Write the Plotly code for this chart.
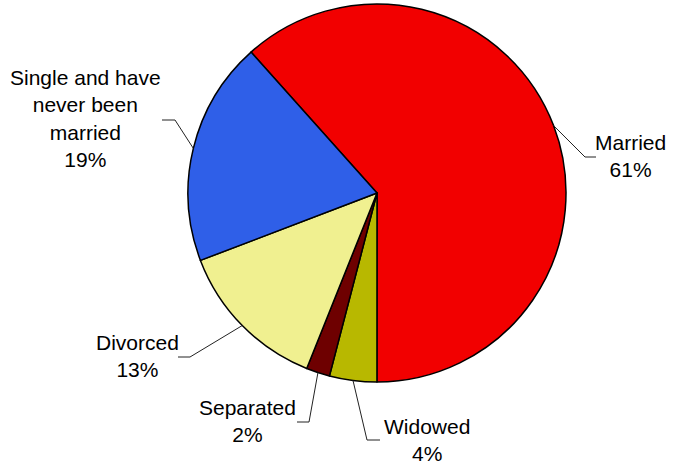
import math
import plotly.graph_objects as go

# ---- data ----
categories = ["Married", "Widowed", "Separated", "Divorced", "Single and have never been married"]
values = [61, 4, 2, 13, 19]
label_texts = ["Married<br>61%", "Widowed<br>4%", "Separated<br>2%", "Divorced<br>13%",
               "Single and have<br>never been<br>married<br>19%"]

# ---- styles / layout ----
W, H = 674, 466
colors = ["#F20000", "#B8B800", "#6E0000", "#F0F090", "#2F5FE8"]
CX, CY, R = 377, 193, 189         # page pixels
ROTATION = -41.8

# label placement (text centre, elbow point, end of leader) in page pixels
label_pos = [(630, 156), (427, 440), (247, 421), (137, 356), (85, 118)]
elbows = [(585, 157), (367, 440), (309, 422), (190, 357), (175, 120)]
ends = [(596, 157), (380, 440), (297, 422), (178, 357), (162, 120)]


def px(x, y):
    return x / W, 1 - y / H


fig = go.Figure()
x0, y0 = px(CX - R, CY + R)
x1, y1 = px(CX + R, CY - R)
fig.add_trace(go.Pie(
    labels=categories, values=values, sort=False, direction="clockwise",
    rotation=ROTATION, textinfo="none", hoverinfo="label+percent",
    marker=dict(colors=colors, line=dict(color="black", width=1.5)),
    domain=dict(x=[x0, x1], y=[y0, y1]),
    showlegend=False,
))

total = sum(values)
cum = 0
shapes, annotations = [], []
for i, v in enumerate(values):
    a0 = ROTATION + 360 * cum / total
    cum += v
    a1 = ROTATION + 360 * cum / total
    mid = math.radians((a0 + a1) / 2)
    ex, ey = CX + R * math.sin(mid), CY - R * math.cos(mid)
    pts = [(ex, ey), elbows[i], ends[i]]
    path = "M " + " L ".join(f"{px(x, y)[0]},{px(x, y)[1]}" for x, y in pts)
    shapes.append(dict(type="path", path=path, xref="paper", yref="paper",
                       line=dict(color="#222222", width=1)))
    lx, ly = px(*label_pos[i])
    annotations.append(dict(text=label_texts[i], x=lx, y=ly, xref="paper", yref="paper",
                            xanchor="center", yanchor="middle", showarrow=False,
                            align="center",
                            font=dict(family="Liberation Sans, Arial", size=21, color="black")))

fig.update_layout(
    width=W, height=H, margin=dict(l=0, r=0, t=0, b=0),
    paper_bgcolor="white", plot_bgcolor="white",
    shapes=shapes, annotations=annotations,
)
fig.write_html("out.html", config={"displayModeBar": False},
               post_script="document.body.style.margin='0';document.body.style.overflow='hidden';")
